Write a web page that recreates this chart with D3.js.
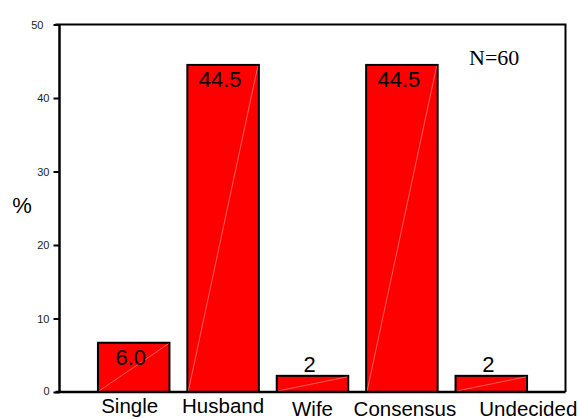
<!DOCTYPE html>
<html>
<head>
<meta charset="utf-8">
<script src="https://cdn.jsdelivr.net/npm/d3@7"></script>
<style>
  body { margin: 0; background: #fff; }
  svg { display: block; }
</style>
</head>
<body>
<svg id="chart"></svg>
<script>
// data
const categories = ["Single", "Husband", "Wife", "Consensus", "Undecided"];
const percents = [6.7, 44.5, 2.2, 44.5, 2.2];
const barLabels = ["6.0", "44.5", "2", "44.5", "2"];
const yTicks = [0, 10, 20, 30, 40, 50];
const note = "N=60";

// category label nudges (the source staggers them a bit)
const catShiftX = [-4, 0, 0, 3, 37];
const catShiftY = [0, 0, 3, 3, 3];

const width = 580, height = 419;
const frame = { left: 59.5, right: 565.5 };

const svg = d3.select("#chart")
    .attr("width", width)
    .attr("height", height);

const x = d3.scaleBand()
    .domain(categories)
    .range([frame.left, frame.right])
    .paddingInner(0.2)
    .paddingOuter(0.43);

const y = d3.scaleLinear()
    .domain([0, 50])
    .range([392, 24.5]);

// frame (top + right), axis lines drawn below
svg.append("path")
    .attr("d", `M${frame.left - 4},${y(50)}H${frame.right}V${y(0)}`)
    .attr("fill", "none")
    .attr("stroke", "#000")
    .attr("stroke-width", 2);

// bars
const bars = svg.append("g").selectAll("g")
    .data(categories)
    .join("g");

bars.append("rect")
    .attr("x", d => x(d))
    .attr("y", (d, i) => y(percents[i]))
    .attr("width", x.bandwidth())
    .attr("height", (d, i) => y(0) - y(percents[i]))
    .attr("fill", "#ff0000")
    .attr("stroke", "#000")
    .attr("stroke-width", 2);

// faint diagonal seam seen in the original rendering
bars.append("line")
    .attr("x1", d => x(d) + 1)
    .attr("y1", y(0) - 1)
    .attr("x2", d => x(d) + x.bandwidth() - 1)
    .attr("y2", (d, i) => y(percents[i]) + 1)
    .attr("stroke", "#ff9a9a")
    .attr("stroke-width", 0.6);

// value labels: inside the top of tall bars, above short ones
bars.append("text")
    .attr("x", d => x(d) + x.bandwidth() / 2 - 3)
    .attr("y", (d, i) => {
        const top = y(percents[i]);
        return (y(0) - top) > 30 ? top + 22 : top - 4;
    })
    .attr("text-anchor", "middle")
    .attr("font-family", "Liberation Sans, Arial, sans-serif")
    .attr("font-size", 22)
    .attr("fill", "#000")
    .text((d, i) => barLabels[i]);

// y axis
const yAxis = d3.axisLeft(y)
    .tickValues(yTicks)
    .tickSize(6)
    .tickPadding(4)
    .tickFormat(d3.format("d"));

const gy = svg.append("g")
    .attr("transform", `translate(${frame.left},0)`)
    .call(yAxis);
gy.select(".domain")
    .attr("d", `M0,${y(50)}V${y(0)}`)
    .attr("stroke-width", 2.5);
gy.selectAll(".tick line").attr("stroke-width", 2);
gy.selectAll(".tick text")
    .attr("font-family", "Liberation Sans, Arial, sans-serif")
    .attr("font-size", 11)
    .attr("fill", "#222");
gy.selectAll(".tick").filter(d => d === 50).select("text").attr("dx", -6);
gy.selectAll(".tick").filter(d => d === 0).select("text").attr("dy", "0.2em");

// x baseline
svg.append("line")
    .attr("x1", frame.left - 4)
    .attr("x2", frame.right)
    .attr("y1", y(0))
    .attr("y2", y(0))
    .attr("stroke", "#000")
    .attr("stroke-width", 2.5);

// category labels
svg.append("g").selectAll("text")
    .data(categories)
    .join("text")
    .attr("x", (d, i) => x(d) + x.bandwidth() / 2 + catShiftX[i])
    .attr("y", (d, i) => 413 + catShiftY[i])
    .attr("text-anchor", "middle")
    .attr("font-family", "Liberation Sans, Arial, sans-serif")
    .attr("font-size", 20.5)
    .attr("fill", "#000")
    .text(d => d);

// y title
svg.append("text")
    .attr("x", 22)
    .attr("y", 213)
    .attr("text-anchor", "middle")
    .attr("font-family", "Liberation Sans, Arial, sans-serif")
    .attr("font-size", 22)
    .text("%");

// N note
svg.append("text")
    .attr("x", 469)
    .attr("y", 65)
    .attr("font-family", "Liberation Serif, 'Times New Roman', serif")
    .attr("font-size", 22)
    .text(note);
</script>
</body>
</html>
